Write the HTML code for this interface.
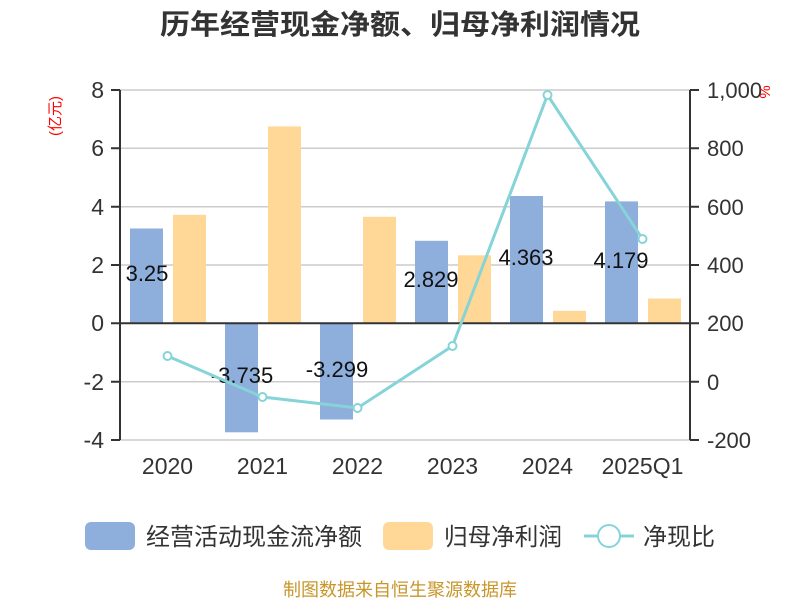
<!DOCTYPE html>
<html><head><meta charset="utf-8"><style>
body{margin:0;background:#fff}
svg text{font-family:"Liberation Sans","Noto Sans CJK SC",sans-serif}
</style></head><body>
<svg width="800" height="600" xmlns="http://www.w3.org/2000/svg">
<text x="160" y="34" textLength="480" lengthAdjust="spacingAndGlyphs" font-size="28" font-weight="bold" fill="#333">历年经营现金净额、归母净利润情况</text>
<g stroke="#ccc" stroke-width="1.5">
<line x1="120" y1="90" x2="690" y2="90"/><line x1="120" y1="148.3" x2="690" y2="148.3"/>
<line x1="120" y1="206.7" x2="690" y2="206.7"/><line x1="120" y1="265" x2="690" y2="265"/>
<line x1="120" y1="381.7" x2="690" y2="381.7"/><line x1="120" y1="440" x2="690" y2="440"/>
</g>
<g fill="#8eaedc">
<rect x="130" y="228.5" width="33" height="94.8"/>
<rect x="225" y="323.3" width="33" height="109"/>
<rect x="320" y="323.3" width="33" height="96.2"/>
<rect x="415" y="240.8" width="33" height="82.5"/>
<rect x="510" y="196" width="33" height="127.3"/>
<rect x="605" y="201.4" width="33" height="121.9"/>
</g>
<g fill="#ffd898">
<rect x="173" y="214.8" width="33" height="108.5"/>
<rect x="268" y="126.4" width="33" height="196.9"/>
<rect x="363" y="216.8" width="33" height="106.5"/>
<rect x="458" y="255.3" width="33" height="68"/>
<rect x="553" y="310.8" width="33" height="12.5"/>
<rect x="648" y="298.5" width="33" height="24.8"/>
</g>
<g stroke="#333" stroke-width="2" fill="none">
<line x1="120" y1="90" x2="120" y2="440"/><line x1="690" y1="90" x2="690" y2="440"/>
<line x1="120" y1="323.3" x2="690" y2="323.3"/>
<path d="M111 90H120M111 148.3H120M111 206.7H120M111 265H120M111 323.3H120M111 381.7H120M111 440H120"/>
<path d="M690 90H699M690 148.3H699M690 206.7H699M690 265H699M690 323.3H699M690 381.7H699M690 440H699"/>
</g>
<g font-size="23" fill="#333" text-anchor="end">
<text x="104" y="98">8</text><text x="104" y="156">6</text><text x="104" y="215">4</text>
<text x="104" y="273">2</text><text x="104" y="331">0</text><text x="104" y="390">-2</text><text x="104" y="448">-4</text>
</g>
<g font-size="22" fill="#333">
<text x="707" y="98">1,000</text><text x="707" y="156">800</text><text x="707" y="215">600</text>
<text x="707" y="273">400</text><text x="707" y="331">200</text><text x="707" y="390">0</text><text x="707" y="448">-200</text>
</g>
<text x="60" y="116" font-size="15" fill="red" text-anchor="middle" transform="rotate(-90 60 116)">(亿元)</text>
<text x="770" y="92" font-size="15" fill="red" text-anchor="middle" transform="rotate(-90 770 92)">%</text>
<g font-size="23" fill="#333" text-anchor="middle">
<text x="167.5" y="474">2020</text><text x="262.5" y="474">2021</text><text x="357.5" y="474">2022</text>
<text x="452.5" y="474">2023</text><text x="547.5" y="474">2024</text><text x="642.5" y="474">2025Q1</text>
</g>
<g font-size="22" fill="#111" text-anchor="middle">
<text x="147" y="281">3.25</text><text x="242" y="383">-3.735</text><text x="337" y="377">-3.299</text>
<text x="431" y="287">2.829</text><text x="526" y="265">4.363</text><text x="621" y="268">4.179</text>
</g>
<polyline points="167.5,356 262.5,397 357.5,408 452.5,346 547.5,95 642.5,239" fill="none" stroke="#86d4d8" stroke-width="3"/>
<g fill="#fff" stroke="#86d4d8" stroke-width="2">
<circle cx="167.5" cy="356" r="4"/><circle cx="262.5" cy="397" r="4"/><circle cx="357.5" cy="408" r="4"/>
<circle cx="452.5" cy="346" r="4"/><circle cx="547.5" cy="95" r="4"/><circle cx="642.5" cy="239" r="4"/>
</g>
<rect x="85" y="522" width="50" height="28" rx="6" fill="#8eaedc"/>
<text x="146" y="545" font-size="24" textLength="216" lengthAdjust="spacingAndGlyphs" fill="#333">经营活动现金流净额</text>
<rect x="383" y="522" width="50" height="28" rx="6" fill="#ffd898"/>
<text x="444" y="545" font-size="24" textLength="118" lengthAdjust="spacingAndGlyphs" fill="#333">归母净利润</text>
<line x1="584" y1="536" x2="634" y2="536" stroke="#86d4d8" stroke-width="3"/>
<circle cx="609" cy="536" r="11" fill="#fff" stroke="#86d4d8" stroke-width="2"/>
<text x="643" y="545" font-size="24" textLength="72" lengthAdjust="spacingAndGlyphs" fill="#333">净现比</text>
<text x="400" y="596" font-size="18" fill="#c8962a" text-anchor="middle">制图数据来自恒生聚源数据库</text>
</svg>
</body></html>
